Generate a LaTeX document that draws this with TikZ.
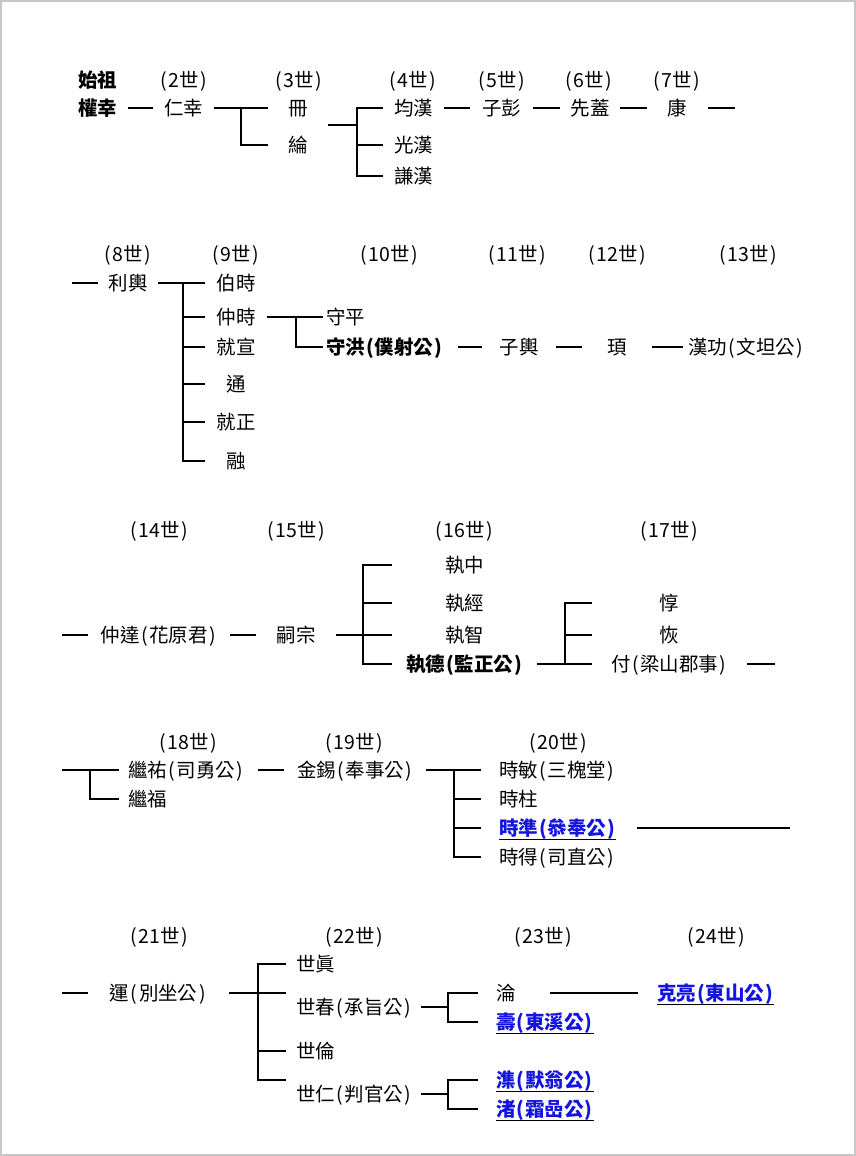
\documentclass[tikz,border=0pt]{standalone}
\usepackage{fontspec}
\setmainfont{Noto Sans CJK TC}
\newcommand\LP{\makebox[0.5em][c]{(}}
\newcommand\RP{\makebox[0.5em][c]{)}}
\newcommand\ulk[1]{\setbox0=\hbox{#1}\rlap{\color{black}\rule[-3.6pt]{\wd0}{0.75pt}}\box0}
\definecolor{linkblue}{RGB}{20,20,225}
\tikzset{
  t/.style={font=\fontsize{14.6pt}{17pt}\selectfont, inner sep=0pt, text height=12.8pt, text depth=1.8pt},
  cell/.style={t, minimum width=#1*0.75pt},
  lcell/.style 2 args={t, anchor=west, inner xsep=#2, text width=#1, align=left},
  bf/.style={font=\fontsize{14.6pt}{17pt}\selectfont\bfseries},
  link/.style={text=linkblue, font=\fontsize{14.6pt}{17pt}\selectfont\bfseries},
  ln/.style={draw=black, line width=0.8pt},
}
\begin{document}
\begin{tikzpicture}[x=0.75pt,y=-0.75pt]
\useasboundingbox (0,0) rectangle (856,1156);
\fill[white] (0,0) rectangle (856,1156);
\draw[gray!45, line width=1.5pt] (1,1) rectangle (855,1155);

% ---------- Row 1 ----------
\node[t, bf, anchor=west] (shizu) at (78,80) {始祖};
\node[t] (g2) at (184,80) {\LP{}2世\RP};
\node[t] (g3) at (299,80) {\LP{}3世\RP};
\node[t] (g4) at (413,80) {\LP{}4世\RP};
\node[t] (g5) at (502,80) {\LP{}5世\RP};
\node[t] (g6) at (589,80) {\LP{}6世\RP};
\node[t] (g7) at (677,80) {\LP{}7世\RP};

\node[lcell={36.75pt}{0pt}, bf] (qx) at (78,108) {權幸};
\node[cell=61] (ren) at (183.5,108) {仁幸};
\node[cell=60] (ce) at (298,108) {冊};
\node[cell=60] (lun) at (298,145) {綸};
\node[cell=61] (jun) at (413.5,108) {均漢};
\node[cell=61] (guang) at (413.5,145) {光漢};
\node[cell=61] (qian) at (413.5,176) {謙漢};
\node[cell=63] (peng) at (501.5,108) {子彭};
\node[cell=60] (gai) at (590,108) {先蓋};
\node[cell=61] (kang) at (677.5,108) {康};
\coordinate (e1) at (735,108);

\draw[ln] (qx.east) -- (ren.west);
\draw[ln] (ren.east) -- (ce.west);
\coordinate (b1a) at (241,108);
\draw[ln] (b1a) |- (lun.west);
\coordinate (b1) at (357,125);
\draw[ln] (ce.east |- b1) -- (b1);
\draw[ln] (jun.west) -| (b1) |- (qian.west);
\draw[ln] (b1 |- guang.west) -- (guang.west);
\draw[ln] (jun.east) -- (peng.west);
\draw[ln] (peng.east) -- (gai.west);
\draw[ln] (gai.east) -- (kang.west);
\draw[ln] (kang.east) -- (e1);

% ---------- Row 2 ----------
\node[t] (g8) at (128,254) {\LP{}8世\RP};
\node[t] (g9) at (236,254) {\LP{}9世\RP};
\node[t] (g10) at (389,254) {\LP{}10世\RP};
\node[t] (g11) at (517,254) {\LP{}11世\RP};
\node[t] (g12) at (617,254) {\LP{}12世\RP};
\node[t] (g13) at (748,254) {\LP{}13世\RP};

\coordinate (s2) at (72,283);
\node[cell=60] (lix) at (128,283) {利輿};
\node[cell=62] (bo) at (236,283) {伯時};
\node[cell=62] (zhong) at (236,317) {仲時};
\node[cell=62] (jx) at (236,347) {就宣};
\node[cell=62] (tong) at (236,384) {通};
\node[cell=62] (jz) at (236,422) {就正};
\node[cell=62] (rong) at (236,461) {融};
\node[lcell={96pt}{2.25pt}] (sp) at (323,317) {守平};
\node[lcell={96pt}{2.25pt}, bf] (sh) at (323,347) {守洪\LP{}僕射公\RP};
\node[cell=74] (ziyu) at (519,347) {子輿};
\node[cell=70] (xu) at (617,347) {頊};
\node[t, anchor=west, inner xsep=3.75pt] (hg) at (683,347) {漢功\LP{}文坦公\RP};

\draw[ln] (s2) -- (lix.west);
\draw[ln] (lix.east) -- (bo.west);
\coordinate (b2) at (183,283);
\draw[ln] (b2) |- (rong.west);
\draw[ln] (b2 |- zhong.west) -- (zhong.west);
\draw[ln] (b2 |- jx.west) -- (jx.west);
\draw[ln] (b2 |- tong.west) -- (tong.west);
\draw[ln] (b2 |- jz.west) -- (jz.west);
\draw[ln] (zhong.east) -- (sp.west);
\coordinate (b3) at (296,317);
\draw[ln] (b3) |- (sh.west);
\draw[ln] (sh.east) -- (ziyu.west);
\draw[ln] (ziyu.east) -- (xu.west);
\draw[ln] (xu.east) -- (hg.west);

% ---------- Row 3 ----------
\node[t] (g14) at (159,530) {\LP{}14世\RP};
\node[t] (g15) at (296,530) {\LP{}15世\RP};
\node[t] (g16) at (464,530) {\LP{}16世\RP};
\node[t] (g17) at (669,530) {\LP{}17世\RP};

\coordinate (s3) at (62,635);
\node[cell=142] (zd) at (159,635) {仲達\LP{}花原君\RP};
\node[cell=80] (sz) at (296,635) {嗣宗};
\node[cell=145] (zzh) at (464.5,565) {執中};
\node[cell=145] (zj) at (464.5,603) {執經};
\node[cell=145] (zzhi) at (464.5,635) {執智};
\node[cell=145, bf] (zde) at (464.5,664) {執德\LP{}監正公\RP};
\node[cell=155] (dun) at (669.5,603) {惇};
\node[cell=155] (hui) at (669.5,635) {恢};
\node[cell=155] (cun) at (669.5,664) {付\LP{}梁山郡事\RP};
\coordinate (e3) at (775,664);

\draw[ln] (s3) -- (zd.west);
\draw[ln] (zd.east) -- (sz.west);
\draw[ln] (sz.east) -- (zzhi.west);
\coordinate (b4) at (363,635);
\draw[ln] (zzh.west) -| (b4) |- (zde.west);
\draw[ln] (b4 |- zj.west) -- (zj.west);
\draw[ln] (zde.east) -- (cun.west);
\coordinate (b5) at (565,664);
\draw[ln] (dun.west) -| (b5);
\draw[ln] (b5 |- hui.west) -- (hui.west);
\draw[ln] (cun.east) -- (e3);

% ---------- Row 4 ----------
\node[t] (g18) at (188,742) {\LP{}18世\RP};
\node[t] (g19) at (354,742) {\LP{}19世\RP};
\node[t] (g20) at (558,742) {\LP{}20世\RP};

\coordinate (s4) at (62,770);
\node[lcell={90pt}{6.75pt}] (jy) at (119,770) {繼祐\LP{}司勇公\RP};
\node[lcell={90pt}{6.75pt}] (jf) at (119,799) {繼福};
\node[lcell={86.25pt}{9.75pt}] (jxi) at (284,770) {金錫\LP{}奉事公\RP};
\node[lcell={89.25pt}{13.5pt}] (sm) at (481,770) {時敏\LP{}三槐堂\RP};
\node[lcell={89.25pt}{13.5pt}] (szh) at (481,799) {時柱};
\node[lcell={89.25pt}{13.5pt}, link] (szn) at (481,828) {\ulk{時準\LP{}叅奉公\RP}};
\node[lcell={89.25pt}{13.5pt}] (sd) at (481,857) {時得\LP{}司直公\RP};
\coordinate (e4) at (790,828);

\draw[ln] (s4) -- (jy.west);
\coordinate (b6) at (90,770);
\draw[ln] (b6) |- (jf.west);
\draw[ln] (jy.east) -- (jxi.west);
\draw[ln] (jxi.east) -- (sm.west);
\coordinate (b7) at (454,770);
\draw[ln] (b7) |- (sd.west);
\draw[ln] (b7 |- szh.west) -- (szh.west);
\draw[ln] (b7 |- szn.west) -- (szn.west);
\draw[ln] (szn.east) -- (e4);

% ---------- Row 5 ----------
\node[t] (g21) at (159,936) {\LP{}21世\RP};
\node[t] (g22) at (354,936) {\LP{}22世\RP};
\node[t] (g23) at (543,936) {\LP{}23世\RP};
\node[t] (g24) at (716,936) {\LP{}24世\RP};

\coordinate (s5) at (62,993);
\node[cell=141] (yun) at (158.5,993) {運\LP{}別坐公\RP};
\node[lcell={85.5pt}{7.5pt}] (szhen) at (286,964) {世眞};
\node[lcell={85.5pt}{7.5pt}] (sc) at (286,1007) {世春\LP{}承旨公\RP};
\node[lcell={85.5pt}{7.5pt}] (slun) at (286,1051) {世倫};
\node[lcell={85.5pt}{7.5pt}] (sr) at (286,1094) {世仁\LP{}判官公\RP};
\node[lcell={26.25pt}{13.5pt}] (lun2) at (478,993) {淪};
\node[lcell={82.5pt}{13.5pt}, link] (shou) at (478,1022) {\ulk{壽\LP{}東溪公\RP}};
\node[lcell={82.5pt}{13.5pt}, link] (ji) at (478,1080) {\ulk{潗\LP{}默翁公\RP}};
\node[lcell={82.5pt}{13.5pt}, link] (zhu) at (478,1109) {\ulk{渚\LP{}霜嵒公\RP}};
\node[lcell={90pt}{14.25pt}, link] (kl) at (638,993) {\ulk{克亮\LP{}東山公\RP}};

\draw[ln] (s5) -- (yun.west);
\coordinate (b8) at (258,993);
\coordinate (c8) at (286,993);
\coordinate (c9) at (286,1080);
\draw[ln] (yun.east) -- (c8);
\draw[ln] (szhen.west) -| (b8) |- (c9);
\draw[ln] (b8 |- slun.west) -- (slun.west);
\coordinate (b9) at (448,993);
\draw[ln] (lun2.west) -| (b9) |- (shou.west);
\draw[ln] (sc.east) -- (sc.east -| b9);
\coordinate (b10) at (448,1080);
\draw[ln] (ji.west) -| (b10) |- (zhu.west);
\draw[ln] (sr.east) -- (sr.east -| b10);
\draw[ln] (lun2.east) -- (kl.west);
\end{tikzpicture}
\end{document}
